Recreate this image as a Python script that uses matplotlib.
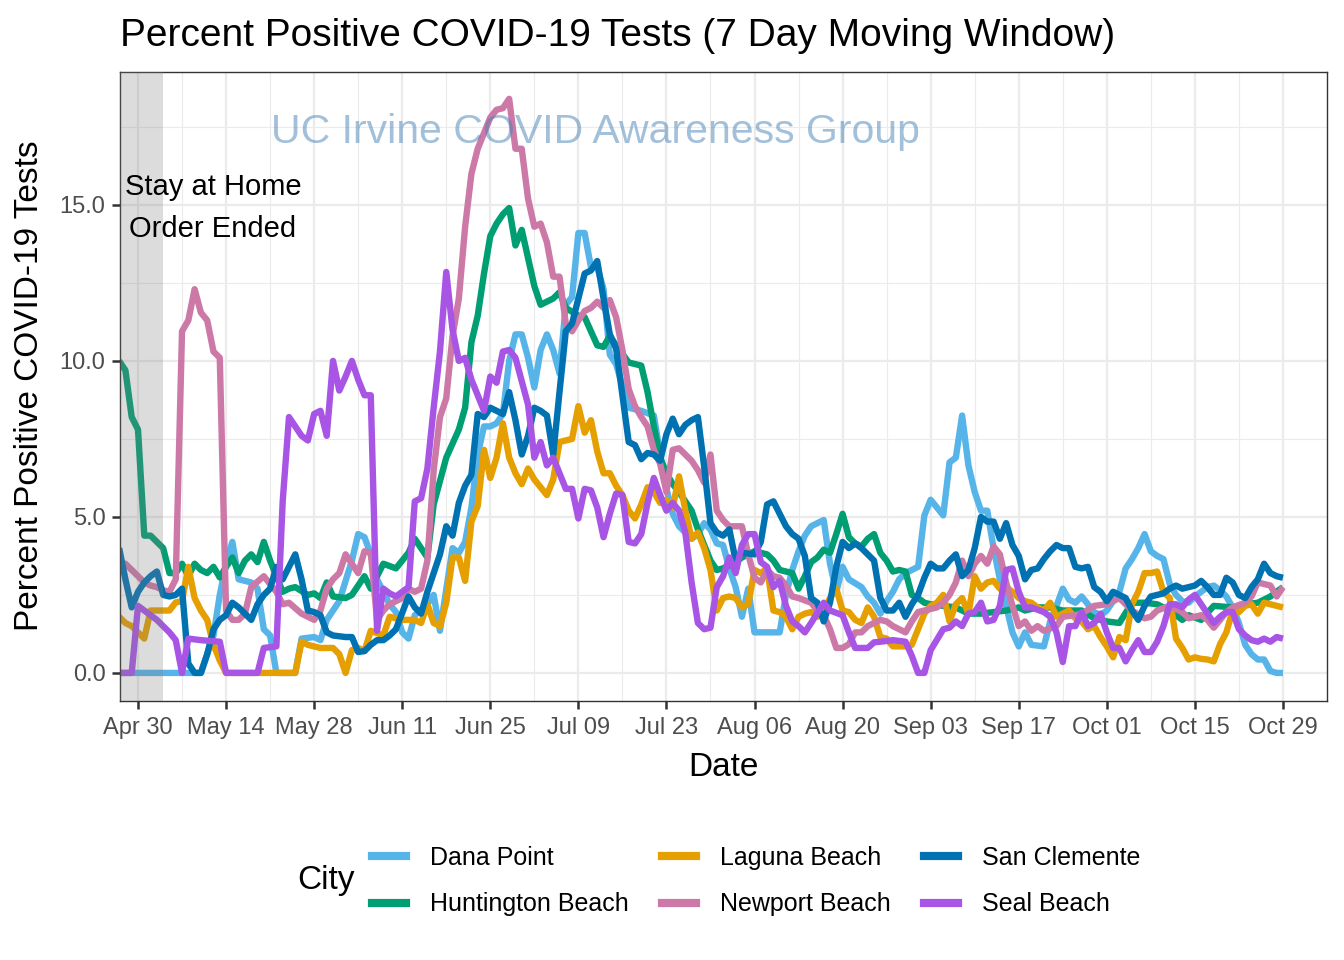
import numpy as np
import matplotlib
matplotlib.use("Agg")
import matplotlib.pyplot as plt
import matplotlib.dates as mdates
from matplotlib.lines import Line2D

plt.rcParams['font.family'] = ['Liberation Sans', 'DejaVu Sans']

# ---------------- data (day offset from 2020-04-30, percent positive) ----------------
START_DATE = '2020-04-30'

dana_point = [(-3,0),(7,0),(10,0),(11,0.6),(12,1.2),(13,2.5),(14,3.5),(15,4.2),(16,3.0),(18,2.9),(19,2.7),(20,1.4),(21,1.2),(22,0),(25,0),(26,1.1),(28,1.15),(29,1.05),(30,1.7),(32,2.3),(33,2.95),(34,3.6),(35,4.45),(36,4.35),(37,3.8),(38,3.0),(40,2.2),(41,1.95),(42,1.3),(43,1.1),(44,1.85),(46,2.2),(47,2.5),(48,1.35),(50,4.0),(51,3.85),(52,4.2),(53,5.3),(54,7.0),(55,7.9),(56,7.9),(57,8.0),(58,8.3),(59,10.0),(60,10.85),(61,10.85),(62,10.1),(63,9.15),(64,10.35),(65,10.85),(66,10.35),(67,9.6),(68,11.8),(69,12.05),(70,14.1),(71,14.1),(72,13.0),(73,13.0),(74,12.3),(75,10.2),(76,9.9),(78,8.5),(80,8.4),(82,8.25),(83,7.0),(84,5.9),(85,5.1),(86,4.7),(88,4.3),(89,4.45),(90,4.8),(91,4.6),(92,4.15),(93,4.1),(94,3.35),(95,2.75),(96,1.8),(97,2.7),(98,1.3),(102,1.3),(103,2.5),(104,3.3),(105,3.9),(106,4.4),(107,4.7),(108,4.8),(109,4.9),(110,3.5),(111,2.6),(112,3.4),(113,3.0),(115,2.75),(116,2.45),(117,2.25),(118,1.9),(119,2.3),(120,2.6),(121,3.0),(122,3.2),(123,3.3),(124,3.4),(125,5.05),(126,5.55),(127,5.3),(128,5.05),(129,6.75),(130,6.9),(131,8.25),(132,6.65),(133,5.8),(134,5.2),(135,5.2),(136,4.0),(137,3.0),(138,2.15),(139,1.3),(140,0.85),(141,1.3),(142,0.9),(144,0.85),(145,1.65),(146,2.15),(147,2.7),(148,2.35),(149,2.25),(150,2.45),(151,2.2),(152,1.95),(153,1.85),(154,2.0),(155,2.3),(156,2.6),(157,3.35),(158,3.65),(159,4.0),(160,4.45),(161,3.9),(162,3.75),(163,3.65),(164,2.85),(165,2.5),(166,2.3),(167,2.25),(168,2.45),(169,2.6),(170,2.75),(171,2.8),(172,2.65),(173,2.45),(174,2.1),(175,1.6),(176,0.9),(177,0.6),(178,0.43),(179,0.43),(180,0.06),(181,0),(182,0)]

huntington_beach = [(-3,10.0),(-2,9.7),(-1,8.2),(0,7.8),(1,4.4),(2,4.4),(3,4.2),(4,4.0),(5,3.2),(6,3.2),(7,3.5),(8,3.1),(9,3.5),(10,3.3),(11,3.2),(12,3.4),(13,3.06),(14,3.4),(15,3.7),(16,3.2),(17,3.6),(18,3.8),(19,3.55),(20,4.2),(21,3.6),(22,3.1),(23,2.6),(24,2.7),(25,2.75),(27,2.5),(28,2.55),(29,2.4),(30,2.9),(31,2.45),(33,2.4),(34,2.5),(36,3.1),(37,2.7),(39,3.5),(41,3.35),(43,3.85),(44,4.3),(46,3.7),(47,5.4),(49,6.9),(51,7.8),(52,8.5),(53,10.6),(54,11.45),(55,12.8),(56,14.0),(57,14.4),(58,14.7),(59,14.9),(60,13.7),(61,14.2),(62,13.3),(63,12.4),(64,11.8),(65,11.9),(66,12.0),(67,12.2),(68,11.7),(70,11.45),(71,11.4),(72,10.95),(73,10.5),(74,10.45),(75,10.8),(76,10.5),(78,9.95),(80,9.85),(81,9.0),(82,7.9),(83,6.9),(84,6.4),(85,6.05),(86,5.8),(88,5.2),(89,4.6),(90,4.1),(91,3.6),(92,3.3),(93,3.35),(95,3.55),(96,3.7),(98,3.9),(99,3.85),(100,3.8),(101,3.6),(102,3.3),(104,3.2),(105,2.7),(106,3.1),(107,3.55),(108,3.7),(109,3.95),(110,3.85),(111,4.45),(112,5.1),(113,4.35),(114,4.15),(115,4.05),(116,4.3),(117,4.45),(118,3.85),(119,3.6),(120,3.25),(121,3.3),(122,3.25),(123,2.5),(124,2.4),(125,2.25),(126,2.2),(128,2.15),(130,2.1),(132,1.9),(134,1.9),(136,1.95),(138,2.0),(140,2.1),(141,2.0),(143,2.1),(145,2.1),(147,2.0),(150,2.0),(152,1.75),(154,1.65),(156,1.6),(158,2.25),(160,2.25),(162,2.2),(164,2.0),(166,1.7),(167,1.85),(169,1.7),(171,2.15),(174,2.1),(176,2.2),(178,2.25),(180,2.45),(182,2.75)]

laguna_beach = [(-3,1.8),(-2,1.6),(-1,1.5),(0,1.3),(1,1.1),(2,2.0),(5,2.0),(6,2.26),(7,2.3),(8,3.4),(9,2.4),(10,2.0),(11,1.7),(12,0.9),(13,0.4),(14,0),(25,0),(26,1.0),(27,0.9),(29,0.8),(31,0.8),(32,0.6),(33,0),(34,0.73),(35,0.8),(36,0.7),(37,1.35),(39,1.2),(40,1.8),(42,1.7),(44,1.7),(45,1.6),(46,2.2),(47,1.6),(48,1.5),(49,2.25),(50,3.7),(51,3.7),(52,2.95),(53,4.85),(54,5.35),(55,7.15),(56,6.25),(57,6.9),(58,8.0),(59,6.9),(60,6.4),(61,6.05),(62,6.55),(63,6.2),(65,5.7),(66,6.2),(67,7.4),(69,7.5),(70,8.55),(71,7.7),(72,8.1),(73,7.1),(74,6.4),(75,6.4),(76,6.0),(77,5.7),(78,5.2),(79,4.95),(80,5.4),(81,5.95),(82,5.8),(83,5.45),(84,5.55),(85,5.3),(86,6.3),(87,5.2),(88,4.3),(89,4.5),(90,4.0),(91,3.3),(92,2.0),(93,2.4),(94,2.45),(95,2.4),(96,2.1),(97,2.2),(98,3.3),(99,3.2),(100,3.35),(101,2.0),(102,1.95),(103,1.8),(104,1.4),(105,1.8),(106,1.9),(107,1.95),(108,1.8),(109,2.0),(110,2.4),(111,2.7),(112,2.0),(113,1.95),(114,1.7),(115,1.6),(116,2.1),(117,1.8),(118,1.15),(119,1.1),(120,0.85),(122,0.85),(123,0.9),(124,1.4),(125,1.9),(126,2.15),(127,2.25),(128,2.5),(129,1.65),(130,2.2),(131,2.4),(132,1.9),(133,3.1),(134,2.7),(135,2.9),(136,2.95),(137,2.7),(138,2.75),(139,2.6),(140,2.4),(141,2.3),(142,2.25),(143,2.1),(144,2.0),(145,2.25),(146,1.8),(147,1.9),(148,2.0),(149,1.75),(150,1.65),(151,1.4),(152,1.5),(153,1.15),(154,0.85),(155,0.5),(156,1.15),(157,1.05),(158,2.2),(159,2.6),(160,3.2),(161,3.2),(162,3.25),(163,2.6),(164,2.4),(165,1.1),(166,0.8),(167,0.43),(168,0.5),(169,0.45),(170,0.43),(171,0.37),(172,0.92),(173,1.3),(174,2.0),(175,1.95),(176,2.15),(177,2.2),(178,1.9),(179,2.25),(180,2.2),(181,2.15),(182,2.1)]

newport_beach = [(-3,3.5),(-2,3.5),(-1,3.3),(0,3.1),(1,2.9),(2,2.8),(3,2.75),(4,2.65),(5,2.6),(6,3.0),(7,10.95),(8,11.3),(9,12.3),(10,11.55),(11,11.3),(12,10.3),(13,10.1),(14,2.0),(15,1.7),(16,1.7),(17,1.9),(18,2.75),(20,3.1),(22,2.6),(23,2.2),(24,2.25),(26,1.9),(28,1.7),(29,2.0),(30,2.7),(31,3.0),(32,3.2),(33,3.8),(34,3.5),(35,3.2),(36,3.9),(37,3.85),(38,1.7),(39,2.0),(40,2.2),(42,2.4),(43,2.7),(44,2.6),(45,2.7),(46,3.6),(47,6.5),(48,8.2),(49,8.8),(50,10.8),(51,12.0),(52,14.3),(53,16.0),(54,16.8),(55,17.3),(56,17.8),(57,18.05),(58,18.1),(59,18.4),(60,16.8),(61,16.8),(62,15.2),(63,14.3),(64,14.4),(65,13.8),(66,12.7),(67,12.7),(68,11.2),(69,10.95),(70,11.3),(71,11.6),(72,11.7),(73,11.9),(74,11.7),(75,11.95),(76,11.4),(77,10.35),(78,9.1),(79,8.55),(80,8.2),(81,7.9),(82,7.15),(83,6.7),(84,5.8),(85,7.15),(86,7.2),(87,7.0),(88,6.8),(89,6.5),(90,6.1),(91,7.0),(92,5.2),(93,4.9),(94,4.7),(96,4.7),(97,3.8),(98,3.05),(99,2.9),(100,3.3),(101,3.1),(102,3.05),(103,2.8),(104,2.45),(105,2.4),(107,2.25),(108,2.0),(109,1.85),(110,1.4),(111,0.8),(112,0.8),(113,0.92),(114,1.3),(115,1.3),(116,1.5),(117,1.6),(118,1.7),(119,1.65),(120,1.5),(122,1.3),(123,1.65),(124,1.95),(125,2.0),(127,2.1),(128,2.25),(129,2.5),(130,2.9),(131,3.6),(132,3.1),(133,3.5),(134,3.75),(135,3.5),(136,4.05),(137,3.8),(138,2.9),(139,2.15),(140,1.5),(141,1.65),(142,1.35),(143,1.5),(144,1.35),(146,1.5),(147,1.8),(149,1.85),(150,1.9),(152,2.15),(154,2.2),(156,2.4),(157,2.2),(158,2.0),(160,1.75),(161,1.8),(162,2.0),(164,2.15),(166,1.95),(167,1.75),(169,1.85),(170,1.7),(171,1.45),(173,1.95),(174,2.1),(176,2.25),(177,2.45),(178,2.9),(180,2.8),(181,2.45),(182,2.75)]

san_clemente = [(-3,4.0),(-2,3.0),(-1,2.1),(0,2.6),(1,2.9),(2,3.1),(3,3.25),(4,2.5),(5,2.45),(6,2.5),(7,2.7),(8,0.3),(9,0),(10,0),(11,0.6),(12,1.4),(13,1.7),(14,1.85),(15,2.25),(16,2.1),(17,1.9),(18,1.7),(19,2.2),(20,2.5),(21,2.7),(22,3.4),(23,3.0),(24,3.4),(25,3.8),(26,3.0),(27,2.0),(28,1.95),(29,1.85),(30,1.3),(31,1.2),(33,1.15),(34,1.15),(35,0.67),(36,0.7),(37,0.9),(38,1.05),(39,1.05),(40,1.2),(41,1.4),(43,2.45),(44,2.1),(45,1.9),(46,2.6),(47,3.2),(48,3.8),(49,4.7),(50,4.4),(51,5.45),(52,6.0),(53,6.35),(54,8.3),(55,8.2),(56,8.5),(57,8.4),(58,8.3),(59,9.0),(60,8.1),(61,7.0),(62,7.6),(63,8.5),(64,8.4),(65,8.25),(66,7.0),(67,9.0),(68,10.95),(69,11.2),(70,12.0),(71,12.8),(72,12.9),(73,13.2),(74,12.0),(75,10.85),(76,10.4),(77,8.9),(78,7.4),(79,7.3),(80,6.85),(81,7.05),(82,7.0),(83,6.8),(84,7.65),(85,8.15),(86,7.65),(87,7.95),(88,8.1),(89,8.2),(90,6.6),(91,4.8),(92,4.5),(93,4.4),(94,4.6),(95,3.6),(96,3.85),(98,3.8),(99,4.2),(100,5.4),(101,5.5),(102,5.1),(103,4.7),(104,4.45),(105,4.3),(106,3.75),(107,2.4),(108,2.25),(109,1.65),(110,2.25),(111,3.4),(112,4.2),(113,4.0),(114,4.15),(115,4.0),(116,3.8),(117,3.6),(118,2.4),(119,2.0),(120,2.0),(121,2.25),(122,1.8),(123,2.2),(124,2.5),(125,3.05),(126,3.5),(127,3.35),(128,3.35),(129,3.6),(130,3.8),(131,3.1),(132,3.3),(133,4.0),(134,5.0),(135,4.85),(136,4.85),(137,4.3),(138,4.8),(139,4.1),(140,3.75),(141,3.0),(142,3.3),(143,3.35),(144,3.65),(145,3.9),(146,4.1),(147,4.0),(148,4.0),(149,3.4),(150,3.35),(151,3.4),(152,2.75),(153,2.6),(154,2.3),(155,2.6),(156,2.5),(157,2.4),(158,2.0),(159,1.7),(160,2.15),(161,2.45),(162,2.5),(163,2.55),(164,2.7),(165,2.8),(166,2.7),(167,2.75),(168,2.8),(169,2.95),(170,2.75),(171,2.5),(172,2.5),(173,3.05),(174,2.9),(175,2.5),(176,2.4),(177,2.75),(178,3.0),(179,3.5),(180,3.2),(181,3.1),(182,3.05)]

seal_beach = [(-3,0),(-1,0),(0,2.15),(1,2.0),(2,1.85),(3,1.7),(4,1.5),(5,1.3),(6,1.05),(7,0),(8,1.1),(10,1.05),(13,1.0),(14,0),(19,0),(20,0.8),(22,0.85),(23,5.5),(24,8.2),(25,7.9),(26,7.6),(27,7.45),(28,8.3),(29,8.4),(30,7.6),(31,10.0),(32,9.05),(33,9.5),(34,10.0),(35,9.4),(36,8.9),(37,8.9),(38,1.35),(39,2.7),(40,2.55),(41,2.45),(42,2.6),(43,2.75),(44,5.5),(45,5.6),(46,6.55),(47,8.5),(48,10.3),(49,12.85),(50,11.0),(51,10.0),(52,10.1),(53,9.4),(54,8.9),(55,8.4),(56,9.5),(57,9.3),(58,10.3),(59,10.35),(60,10.1),(61,9.35),(62,8.6),(63,6.9),(64,7.4),(65,6.65),(66,6.9),(67,6.4),(68,5.9),(69,5.9),(70,4.95),(71,5.9),(72,5.85),(73,5.3),(74,4.35),(75,5.1),(76,5.75),(77,5.7),(78,4.2),(79,4.15),(80,4.45),(81,5.45),(82,6.25),(83,5.7),(84,5.2),(85,5.45),(86,5.2),(87,4.5),(88,2.9),(89,1.6),(90,1.4),(91,1.45),(92,2.75),(93,3.1),(94,3.7),(95,3.2),(96,4.1),(97,4.45),(98,4.45),(99,3.55),(100,3.4),(101,2.75),(102,2.95),(103,2.15),(104,1.65),(105,1.5),(106,1.3),(107,1.6),(109,2.25),(110,2.0),(112,1.85),(113,1.3),(114,0.8),(116,0.8),(117,0.98),(118,1.0),(120,1.05),(122,1.0),(123,0.55),(124,0),(125,0),(126,0.73),(128,1.4),(129,1.45),(130,1.65),(131,1.5),(132,1.9),(133,1.95),(134,2.25),(135,1.65),(136,1.7),(137,2.15),(138,3.3),(139,3.35),(140,2.6),(141,2.1),(142,2.1),(144,1.95),(145,1.8),(146,1.3),(147,0.35),(148,1.5),(149,1.5),(150,1.95),(151,1.5),(152,1.6),(153,1.9),(154,1.3),(155,0.8),(156,0.8),(157,0.37),(158,0.73),(159,1.05),(160,0.67),(161,0.67),(162,1.0),(163,1.5),(164,2.2),(165,2.2),(166,2.1),(167,2.35),(168,2.5),(169,2.2),(170,1.9),(171,1.6),(172,1.8),(173,1.95),(174,1.95),(175,1.4),(176,1.2),(177,1.05),(178,1.0),(179,1.1),(180,1.0),(181,1.15),(182,1.1)]

cities = ['Dana Point', 'Huntington Beach', 'Laguna Beach', 'Newport Beach', 'San Clemente', 'Seal Beach']
city_colors = ['#56B4E9', '#009E73', '#E69F00', '#CC79A7', '#0072B2', '#A855E6']
city_series = [dana_point, huntington_beach, laguna_beach, newport_beach, san_clemente, seal_beach]

stay_home_end_day = 4
y_ticks = [0, 5, 10, 15]
x_tick_step_days = 14
last_day = 182

# ---------------- figure ----------------
W, H = 1344, 960
fig = plt.figure(figsize=(W / 100, H / 100), dpi=100)
ax = fig.add_axes([120 / W, 1 - 701 / H, (1327 - 120) / W, (701 - 72) / H])

base = mdates.date2num(np.datetime64(START_DATE))
LW = 4.6

for name, col, data in zip(cities, city_colors, city_series):
    d = np.array([p[0] for p in data], dtype=float)
    v = np.array([p[1] for p in data], dtype=float)
    ax.plot(base + d, v, color=col, lw=LW, solid_joinstyle='round',
            solid_capstyle='butt', zorder=2, label=name)

x_left = base - 2.86
x_right = base + 189.0

# stay-at-home shaded band (drawn over lines)
ax.axvspan(base - 10, base + stay_home_end_day, color='#7F7F7F', alpha=0.27, lw=0, zorder=3)

# ticks
major = base + np.arange(0, last_day + 1, x_tick_step_days)
minor = base + np.arange(7, last_day + 1, x_tick_step_days)
ax.set_xticks(major)
ax.set_xticks(minor, minor=True)
ax.xaxis.set_major_formatter(mdates.DateFormatter('%b %d'))
ax.set_yticks(y_ticks)
ax.set_yticks([2.5, 7.5, 12.5, 17.5], minor=True)
ax.set_yticklabels(['%.1f' % t for t in y_ticks])

ax.set_xlim(x_left, x_right)
ax.set_ylim(-0.9, 19.26)

ax.grid(which='major', color='#EBEBEB', lw=1.6, zorder=0)
ax.grid(which='minor', color='#EBEBEB', lw=0.8, zorder=0)
ax.set_axisbelow(True)
ax.tick_params(which='minor', length=0)
ax.tick_params(which='major', length=5.5, width=1.8, color='#333333',
               labelsize=17, labelcolor='#4D4D4D')
ax.tick_params(axis='x', which='major', pad=6)
ax.tick_params(axis='y', which='major', pad=5)
for s in ax.spines.values():
    s.set_color('#333333')
    s.set_linewidth(1.0)

# annotations
ax.text(base + 11.9, 15.32, 'Stay at Home', ha='center', va='baseline',
        fontsize=21, color='black', zorder=6)
ax.text(base + 11.9, 13.97, 'Order Ended', ha='center', va='baseline',
        fontsize=21, color='black', zorder=6)
ax.text(base + 72.7, 17.0, 'UC Irvine COVID Awareness Group', ha='center', va='baseline',
        fontsize=29.5, color='#4682B4', alpha=0.5, zorder=6)

# titles
fig.text(120 / W, 1 - 46 / H, 'Percent Positive COVID-19 Tests (7 Day Moving Window)',
         ha='left', va='baseline', fontsize=28, color='black')
fig.text(723 / W, 1 - 767 / H, 'Date', ha='center', va='center', fontsize=24)
fig.text(30 / W, 1 - 386 / H, 'Percent Positive COVID-19 Tests', ha='center', va='center',
         rotation=90, fontsize=24)

# legend
handles = [Line2D([0], [0], color=c, lw=LW + 1.3) for c in city_colors]
leg = fig.legend(handles, cities, loc='center', bbox_to_anchor=(756 / W, 1 - 881 / H),
                 ncol=3, frameon=False, fontsize=18, handlelength=1.35,
                 handletextpad=0.95, columnspacing=1.35, labelspacing=0.9)
fig.text(297 / W, 1 - 880 / H, 'City', ha='left', va='center', fontsize=24)

fig.savefig('out.png', dpi=100)
